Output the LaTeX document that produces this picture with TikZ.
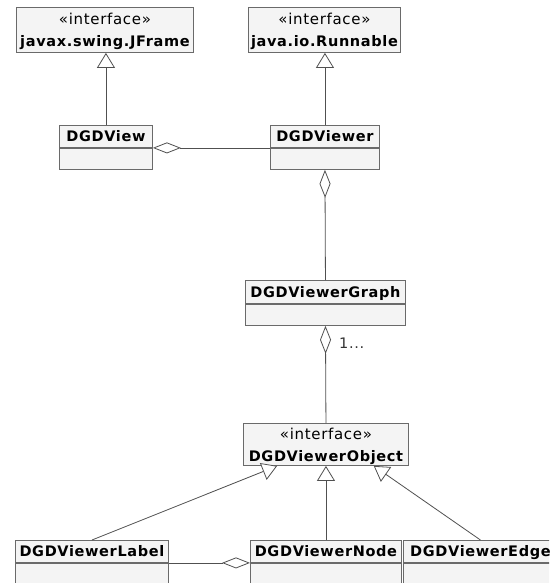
\documentclass[tikz,border=0pt]{standalone}
\usepackage{fontspec}
\setmainfont{DejaVu Sans}[LetterSpace=4.5]
\usetikzlibrary{arrows.meta,calc}
\definecolor{boxfill}{HTML}{F4F4F4}
\definecolor{boxline}{HTML}{6A6A6A}
\definecolor{wire}{HTML}{505050}
\tikzset{
  classhead/.style={draw=boxline, fill=boxfill, line width=0.9pt, inner sep=0pt,
    anchor=north west, text height=11pt, text depth=0pt,
    font=\bfseries\fontsize{14.5}{17}\selectfont},
  classbody/.style={draw=boxline, fill=boxfill, line width=0.9pt, inner sep=0pt,
    anchor=north west},
  iface/.style={draw=boxline, fill=boxfill, line width=0.9pt, inner sep=0pt,
    anchor=north west, align=center, text depth=0pt,
    font=\bfseries\fontsize{14.5}{22}\selectfont},
  wireline/.style={draw=wire, line width=0.8pt},
  realizes/.style={wireline, -{Triangle[open, length=15pt, width=18pt, fill=white]}},
  aggregates/.style={wireline, -{Diamond[open, length=28pt, width=11pt, fill=white]}},
  mult/.style={anchor=base west, inner sep=0pt, text=black!80,
    font=\fontsize{14.5}{17}\selectfont},
}
\newcommand{\stereotype}{{\mdseries\fontsize{15}{22}\selectfont «interface»}}
\begin{document}
\begin{tikzpicture}[x=1pt, y=-1pt]
  \useasboundingbox (0,0) rectangle (549,583);
  \clip (0,0) rectangle (549,583);
  \fill[white] (0,0) rectangle (549,583);

  % interfaces
  \node[iface, minimum width=177, minimum height=45] (jframe) at (16,7)
    {\stereotype\\javax.swing.JFrame};
  \node[iface, minimum width=152, minimum height=45] (runnable) at (248,7)
    {\stereotype\\java.io.Runnable};
  \node[iface, minimum width=165, minimum height=42] (object) at (243,423)
    {\stereotype\\DGDViewerObject};

  % classes: name compartment + empty compartment
  \node[classhead, minimum width=93, minimum height=22] (view) at (59,125) {DGDView};
  \node[classbody, minimum width=93, minimum height=21] (view-c) at (view.south west) {};

  \node[classhead, minimum width=109, minimum height=22] (viewer) at (270,125) {DGDViewer};
  \node[classbody, minimum width=109, minimum height=21] (viewer-c) at (viewer.south west) {};

  \node[classhead, minimum width=160, minimum height=23] (graph) at (245,280) {DGDViewerGraph};
  \node[classbody, minimum width=160, minimum height=21] (graph-c) at (graph.south west) {};

  \node[classhead, minimum width=153, minimum height=22] (label) at (15,540) {DGDViewerLabel};
  \node[classbody, minimum width=153, minimum height=40] (label-c) at (label.south west) {};

  \node[classhead, minimum width=151, minimum height=22] (vnode) at (250,540) {DGDViewerNode};
  \node[classbody, minimum width=151, minimum height=40] (vnode-c) at (vnode.south west) {};

  \node[classhead, minimum width=154, minimum height=22] (edge) at (403,540) {DGDViewerEdge};
  \node[classbody, minimum width=154, minimum height=40] (edge-c) at (edge.south west) {};

  % realization arrows
  \draw[realizes] (view.north) -- (view.north |- jframe.south);
  \draw[realizes] (viewer.north) -- (viewer.north |- runnable.south);
  \coordinate (obj-l) at ($(object.south west)!0.206!(object.south east)$);
  \coordinate (obj-r) at ($(object.south west)!0.788!(object.south east)$);
  \draw[realizes] (label.north) -- (obj-l);
  \draw[realizes] (vnode.north) -- (vnode.north |- object.south);
  \draw[realizes] (edge.north) -- (obj-r);

  % aggregations
  \draw[aggregates] (viewer.south west) -- (view.south east);
  \draw[aggregates] (graph.north) -- (viewer-c.south);
  \draw[aggregates] (object.north) -- (graph-c.south);
  \draw[aggregates] (label.south east) -- (vnode.south west);

  \node[mult] (graph-mult) at (339,348) {1...};
\end{tikzpicture}
\end{document}
